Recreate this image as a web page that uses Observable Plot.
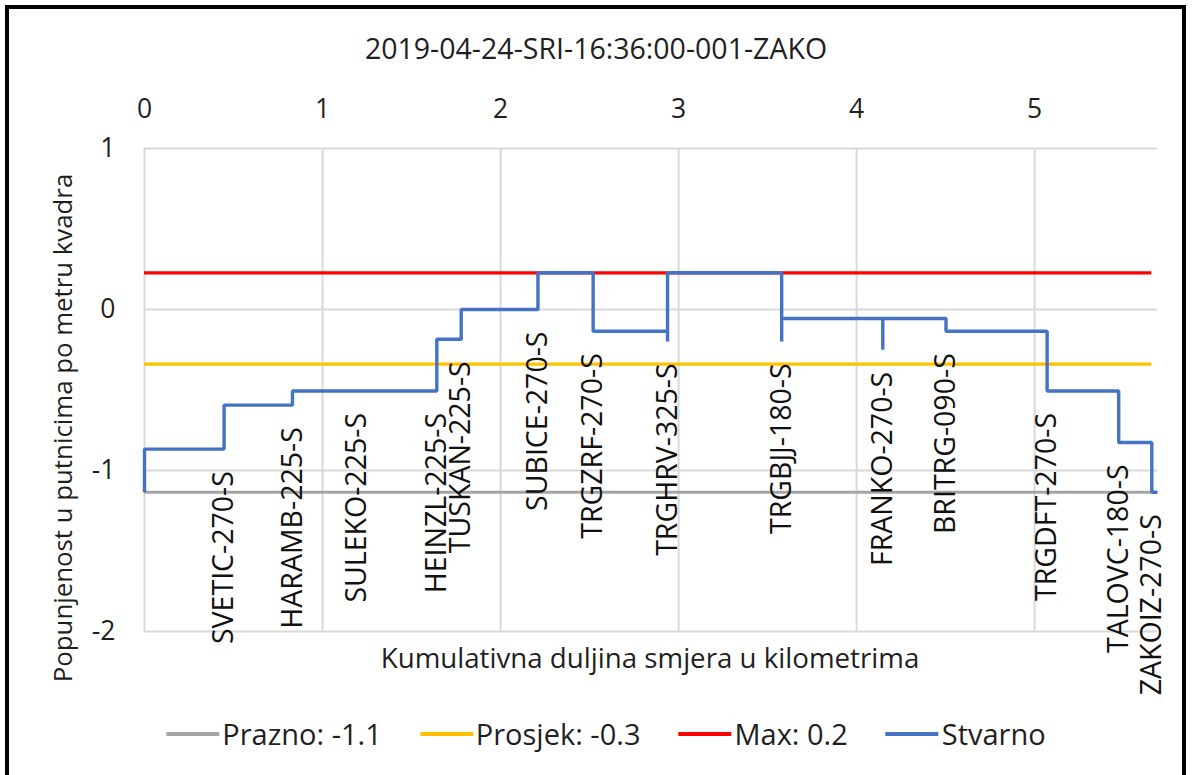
<!DOCTYPE html>
<html>
<head>
<meta charset="utf-8">
<script src="https://cdn.jsdelivr.net/npm/d3@7"></script>
<script src="https://cdn.jsdelivr.net/npm/@observablehq/plot@0.6"></script>
<style>
  html, body { margin: 0; padding: 0; background: #fff; }
  body { width: 1196px; height: 775px; overflow: hidden; position: relative; font-family: "Open Sans", sans-serif; color: #1f1f1f; }
  #frame { position: absolute; left: 5px; top: 5px; width: 1181px; height: 820px; border: 4.5px solid #000; border-bottom: none; box-sizing: border-box; }
  #title { position: absolute; left: 596px; top: 31px; transform: translateX(-50%); font-size: 28.5px; line-height: 1.2; white-space: nowrap; }
  #xtitle { position: absolute; left: 650px; top: 641px; transform: translateX(-50%); font-size: 27.7px; white-space: nowrap; line-height: 1.2; }
  #chart { position: absolute; left: 0; top: 0; }
  #legend { position: absolute; left: 606px; top: 717px; transform: translateX(-50%); display: flex; gap: 38px; font-size: 29px; white-space: nowrap; line-height: 1.2; }
  .item { display: flex; align-items: center; }
  .sw { width: 53px; height: 4px; margin-right: 3px; }
</style>
</head>
<body>
<div id="frame"></div>
<div id="chart"></div>
<div id="title"></div>
<div id="xtitle"></div>
<div id="legend"></div>
<script>
// ---- data ----
const chartTitle = "2019-04-24-SRI-16:36:00-001-ZAKO";
const yTitle = "Popunjenost u putnicima po metru kvadra";
const xTitle = "Kumulativna duljina smjera u kilometrima";

const xTicks = [0, 1, 2, 3, 4, 5];
const yTicks = [-2, -1, 0, 1];

const stationNames = ["", "SVETIC-270-S", "HARAMB-225-S", "SULEKO-225-S", "HEINZL-225-S", "TUSKAN-225-S",
  "SUBICE-270-S", "TRGZRF-270-S", "TRGHRV-325-S", "TRGBJJ-180-S", "FRANKO-270-S", "BRITRG-090-S",
  "TRGDFT-270-S", "TALOVC-180-S", "ZAKOIZ-270-S"];
const stationKm = [0, 0.447, 0.831, 1.193, 1.642, 1.779, 2.210, 2.520, 2.938, 3.579, 4.147, 4.502, 5.070, 5.472, 5.658];
// load after passengers alight (lowest point at the stop)
const loadAfterAlight = [-1.135, -0.867, -0.594, -0.506, -0.506, -0.185, 0.0, -0.135, -0.198, -0.198, -0.250, -0.135, -0.506, -0.826, -1.135];
// load after passengers board (level until next stop)
const loadAfterBoard = [-0.867, -0.594, -0.506, -0.506, -0.185, 0.0, 0.228, -0.135, 0.228, -0.056, -0.056, -0.135, -0.506, -0.826, -1.135];
const routeEndKm = 5.69;

const refNames = ["Prazno", "Prosjek", "Max"];
const refValues = [-1.135, -0.339, 0.228];
const refColors = ["#A5A5A5", "#FFC000", "#FF0000"];
const actualName = "Stvarno";
const actualColor = "#4472C4";

// ---- derived tables ----
const path = [];
stationKm.forEach((km, i) => {
  if (i > 0) path.push({km, v: loadAfterBoard[i - 1]});
  path.push({km, v: loadAfterAlight[i]});
  path.push({km, v: loadAfterBoard[i]});
});
path.push({km: routeEndKm, v: loadAfterBoard[loadAfterBoard.length - 1]});

const stations = stationNames.map((name, i) => ({name, km: stationKm[i], low: loadAfterAlight[i]})).filter(d => d.name);
const refs = refNames.map((name, i) => ({name, v: refValues[i], color: refColors[i]}));
const kmStart = stationKm[0], kmEnd = stationKm[stationKm.length - 1];

const chart = Plot.plot({
  width: 1196,
  height: 700,
  marginTop: 148,
  marginBottom: 69,
  marginLeft: 144,
  marginRight: 39,
  style: {fontFamily: "Open Sans", fontSize: "26.5px", color: "#1f1f1f", background: "transparent", overflow: "visible"},
  x: {domain: [0, 5.69], axis: "top", ticks: xTicks, tickSize: 0, tickPadding: 31, label: null, tickFormat: d => String(d)},
  y: {domain: [-2, 1], ticks: yTicks, tickSize: 0, tickPadding: 29, label: null, tickFormat: d => String(d)},
  marks: [
    Plot.ruleX(xTicks, {x: d => d, stroke: "#d9d9d9", strokeWidth: 2}),
    Plot.ruleY(yTicks, {y: d => d, stroke: "#d9d9d9", strokeWidth: 2}),
    Plot.ruleY(refs, {y: "v", x1: () => kmStart, x2: () => kmEnd, stroke: "color", strokeWidth: 3.2}),
    Plot.line(path, {x: "km", y: "v", stroke: actualColor, strokeWidth: 3.4, strokeLinejoin: "miter", strokeLinecap: "butt"}),
    Plot.text(stations, {x: "km", y: "low", text: "name", rotate: -90, textAnchor: "end", dy: 22, fontSize: 28.5, fill: "#111"}),
    Plot.text([yTitle], {text: d => d, frameAnchor: "left", rotate: -90, textAnchor: "middle", dx: -81, dy: 38, fontSize: 25.8, fill: "#1f1f1f"})
  ]
});
document.getElementById("chart").appendChild(chart);

document.getElementById("title").textContent = chartTitle;
document.getElementById("xtitle").textContent = xTitle;

const legend = document.getElementById("legend");
const items = refs.map(r => ({label: `${r.name}: ${r.v.toFixed(1)}`, color: r.color}))
  .concat([{label: actualName, color: actualColor}]);
items.forEach(it => {
  const d = document.createElement("div");
  d.className = "item";
  const s = document.createElement("div");
  s.className = "sw";
  s.style.background = it.color;
  const t = document.createElement("span");
  t.textContent = it.label;
  d.appendChild(s); d.appendChild(t);
  legend.appendChild(d);
});
</script>
</body>
</html>
